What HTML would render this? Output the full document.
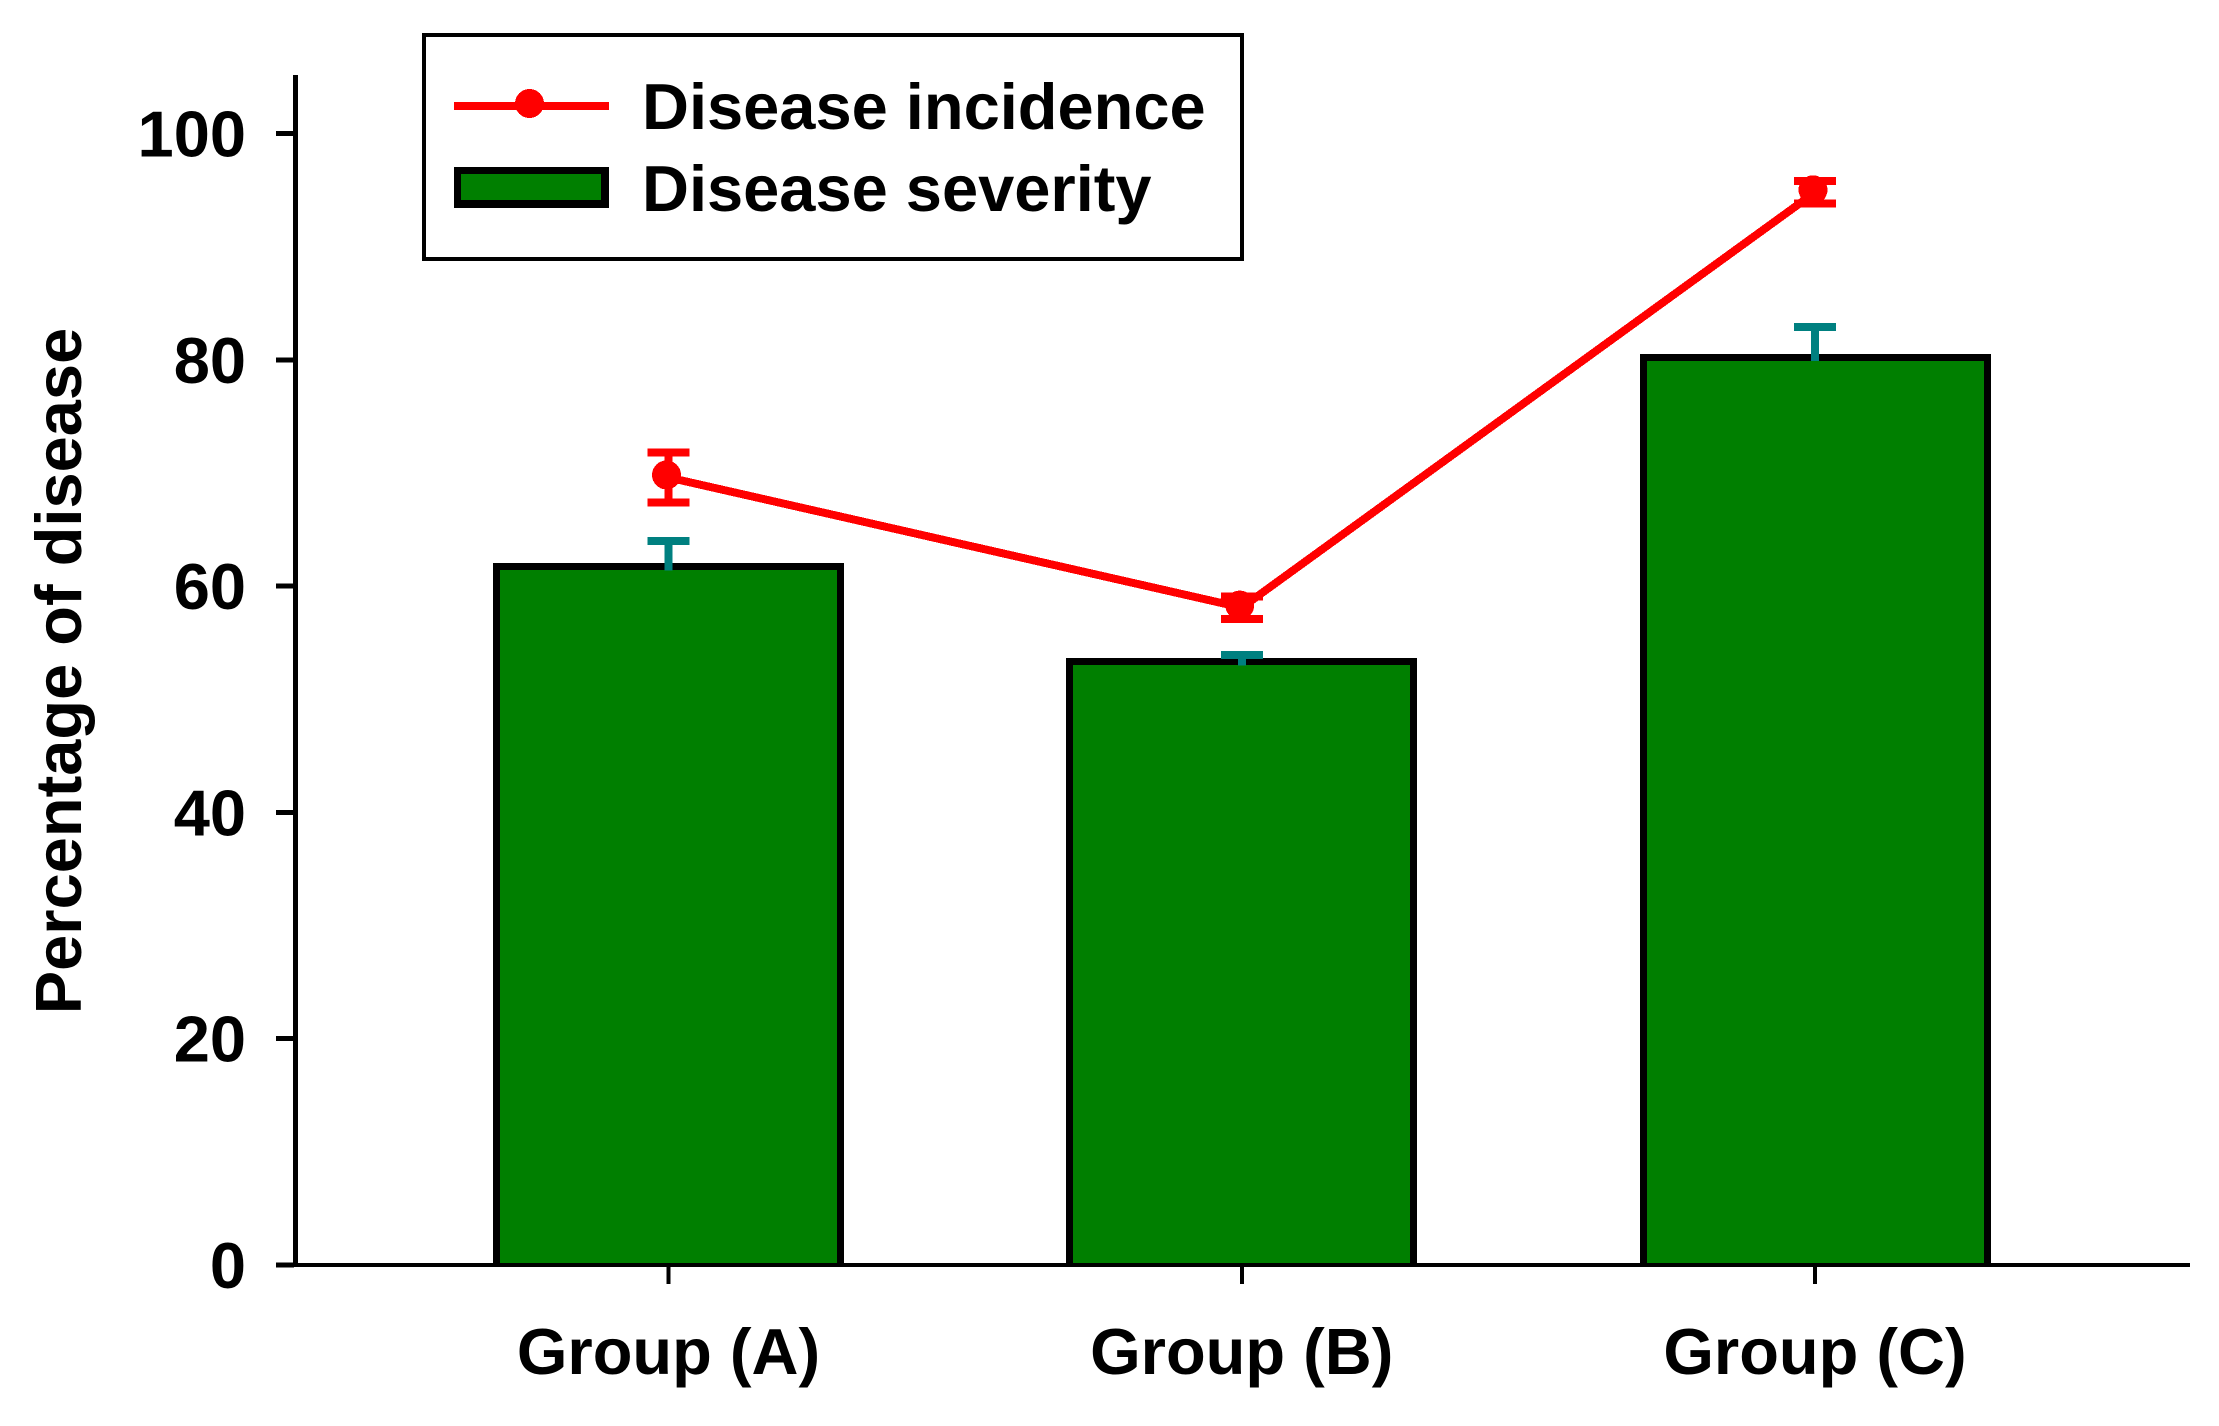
<!DOCTYPE html>
<html lang="en">
<head>
<meta charset="utf-8">
<title>Percentage of disease by group</title>
<style>
  html, body { margin: 0; padding: 0; background: #fff; }
  svg { display: block; }
  text { font-family: "Liberation Sans", Arial, sans-serif; font-weight: bold; font-size: 65px; fill: #000; }
</style>
</head>
<body>
<svg id="chart" xmlns="http://www.w3.org/2000/svg" width="2219" height="1426" viewBox="0 0 2219 1426" shape-rendering="crispEdges"></svg>
<script>
const categories = ["Group (A)", "Group (B)", "Group (C)"];
const severityValues = [61.7, 53.3, 80.2];
const severityErrors = [2.3, 0.6, 2.7];
const incidenceValues = [69.6, 58.1, 94.8];
const incidenceErrors = [2.2, 1.0, 1.0];
const yTickValues = [0, 20, 40, 60, 80, 100];
const yTickLabels = ["0", "20", "40", "60", "80", "100"];

const NS = "http://www.w3.org/2000/svg";
const svg = document.getElementById("chart");

function yScale(v) { return 1265 - v * 11.315; }
function xScale(i) { return 668.5 + i * 573.25; }

function make(tag, attrs, parent) {
  const el = document.createElementNS(NS, tag);
  for (const k in attrs) el.setAttribute(k, attrs[k]);
  (parent || svg).appendChild(el);
  return el;
}

const BAR_OUTER_HALF = 175.5, BAR_BORDER = 7;
const MARKER_DX = -2, MARKER_DY = -2.5;

// bars
categories.forEach(function (c, i) {
  const x = xScale(i);
  const top = Math.round(yScale(severityValues[i]) - BAR_BORDER / 2);
  const g = make("g", {});
  
  
  const left = Math.round(x - BAR_OUTER_HALF);
  const w = Math.round(BAR_OUTER_HALF * 2);
  make("rect", { x: left, y: top, width: w, height: 1265 - top, fill: "#000" }, g);
  make("rect", { x: left + BAR_BORDER, y: top + BAR_BORDER, width: w - 2 * BAR_BORDER, height: 1265 - top - BAR_BORDER, fill: "#007f00" }, g);
});

// severity error bars
categories.forEach(function (c, i) {
  const x = xScale(i);
  const base = yScale(severityValues[i]) + BAR_BORDER / 2;
  const tip = yScale(severityValues[i] + severityErrors[i]);
  const g = make("g", {});
  
  
  make("rect", { x: x - 4, y: tip, width: 8, height: base - tip, fill: "#008080" }, g);
  make("rect", { x: x - 21, y: tip - 4, width: 42, height: 8, fill: "#008080" }, g);
});

// incidence line
const linePoints = categories.map(function (c, i) { return xScale(i) + "," + yScale(incidenceValues[i]); }).join(" ");
const incidenceLine = make("polyline", { points: linePoints, fill: "none", stroke: "#ff0000", "stroke-width": 8 });



// incidence error bars and points
categories.forEach(function (c, i) {
  const x = xScale(i);
  const hi = yScale(incidenceValues[i] + incidenceErrors[i]);
  const lo = yScale(incidenceValues[i] - incidenceErrors[i]);
  const g = make("g", {});
  
  
  make("rect", { x: x - 4, y: hi, width: 8, height: lo - hi, fill: "#ff0000" }, g);
  make("rect", { x: x - 21, y: hi - 4, width: 42, height: 8, fill: "#ff0000" }, g);
  make("rect", { x: x - 21, y: lo - 4, width: 42, height: 8, fill: "#ff0000" }, g);
  const pt = make("circle", { cx: x + MARKER_DX, cy: yScale(incidenceValues[i]) + MARKER_DY, r: 14.5, fill: "#ff0000" });
  
  
});

// y axis
const yAxis = make("rect", { x: 293, y: 75, width: 5, height: 1192, fill: "#000" });



yTickValues.forEach(function (v, i) {
  const y = yScale(v);
  const tick = make("rect", { x: 276, y: y - 2.5, width: 18, height: 5, fill: "#000" });
  
  
  const label = make("text", { x: 246, y: y + 23, "text-anchor": "end" });
  label.textContent = yTickLabels[i];
  
  
});

// x axis
const xAxis = make("rect", { x: 276, y: 1263, width: 1914, height: 4, fill: "#000" });



categories.forEach(function (c, i) {
  const x = xScale(i);
  const tick = make("rect", { x: x - 2, y: 1267, width: 4, height: 17, fill: "#000" });
  
  
  const label = make("text", { x: x, y: 1374, "text-anchor": "middle" });
  label.textContent = c;
  
  
});

// y axis title
const yTitle = make("text", { transform: "translate(81 671) rotate(-90)", "text-anchor": "middle" });
yTitle.textContent = "Percentage of disease";



// legend
const legend = make("g", {});


make("rect", { x: 424, y: 35, width: 818, height: 224, fill: "#fff", stroke: "#000", "stroke-width": 4 }, legend);

const entry1 = make("g", {}, legend);


make("rect", { x: 454, y: 102, width: 155, height: 8, fill: "#ff0000" }, entry1);
make("circle", { cx: 529.5, cy: 103.5, r: 14.5, fill: "#ff0000" }, entry1);
const t1 = make("text", { x: 642, y: 129 }, entry1);
t1.textContent = "Disease incidence";

const entry2 = make("g", {}, legend);


make("rect", { x: 454, y: 167, width: 155, height: 41, fill: "#000" }, entry2);
make("rect", { x: 461, y: 174, width: 140, height: 26, fill: "#007f00" }, entry2);
const t2 = make("text", { x: 642, y: 211 }, entry2);
t2.textContent = "Disease severity";
</script>
</body>
</html>
